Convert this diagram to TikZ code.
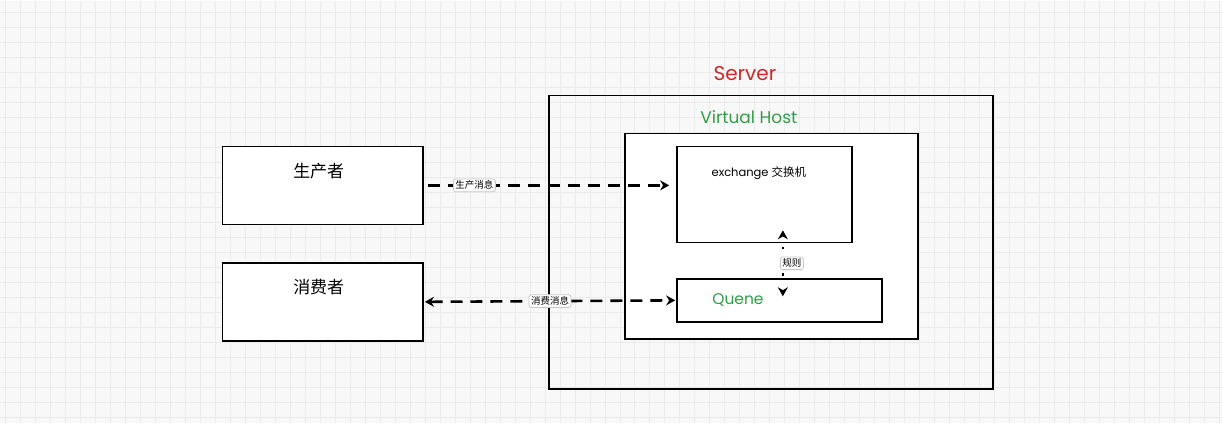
\documentclass[tikz,border=0pt]{standalone}
\usepackage{fontspec}
\setmainfont{Poppins}
\newfontfamily\cjk{Noto Sans CJK SC}
\usetikzlibrary{positioning,arrows.meta}

\definecolor{srvred}{HTML}{C92A2A}
\definecolor{vhgreen}{HTML}{2F9E44}
\definecolor{gridbg}{HTML}{F8F8F8}
\definecolor{gridln}{HTML}{EBEBEB}

\begin{document}
\begin{tikzpicture}[x=1pt, y=-1pt,
    >={Stealth[length=9pt,width=10pt]},
    bb/.style={%
      rectangle, draw=black, line width=1.6pt, fill=white, inner sep=0pt
    },
    txt/.style={%
      inner sep=0pt, font=\cjk\fontsize{17}{17}\selectfont
    },
    tag/.style={%
      rectangle, rounded corners=2.5pt, draw=black!22, fill=white, solid,
      line width=0.8pt, inner sep=2pt, font=\cjk\fontsize{9.5}{9.5}\selectfont
    },
    flow/.style={line width=2.6pt, dash pattern=on 12pt off 8pt}
]
    % grid paper
    \fill[gridbg] (0,0) rectangle (1222,423);
    \foreach \x in {5,20,...,1220}
      \draw[gridln, line width=1pt] (\x,0) -- (\x,423);
    \foreach \y in {12,27,...,420}
      \draw[gridln, line width=1pt] (0,\y) -- (1222,\y);
    \useasboundingbox (0,0) rectangle (1222,423);

    \node[bb, minimum width=201pt, minimum height=78pt] (1) at (322.5,185) {};
    \node[bb, minimum width=201pt, minimum height=78pt] (2) [below = 37pt of 1] {};
    \node[bb, fill=none, line width=1.8pt, minimum width=444pt, minimum height=294pt] (3) at (771,242) {};
    \node[bb, minimum width=293pt, minimum height=206pt] (4) at (771.5,236) {};
    \node[bb, minimum width=175pt, minimum height=96pt] (5) at (764.5,194) {};
    \node[bb, minimum width=205pt, minimum height=43pt] (6) [below right = 35pt and 0pt of 5.south west] {};

    \node[txt] (7)  [below = 17pt of 1.north, xshift=-4pt] {生产者};
    \node[txt] (8)  [below = 17pt of 2.north, xshift=-4pt] {消费者};
    \node[txt, font=\fontsize{20}{20}\selectfont, text=srvred] (9) at (745,73) {Server};
    \node[txt, font=\fontsize{17}{17}\selectfont, text=vhgreen] (10) at (749,117) {Virtual Host};
    \node[txt, font=\fontsize{11.5}{11.5}\selectfont] (11) at (759,173) {exchange {\cjk 交换机}};
    \node[txt, font=\fontsize{15.5}{15.5}\selectfont, text=vhgreen] (12) [right = 36pt of 6.west] {Quene};

    \coordinate (r1) at (783,230);
    \coordinate (r2) at (783,296);

    \path (1.east) edge[flow, ->, shorten <=4pt, shorten >=7pt]
            node[tag, pos=0.2] {生产消息} (1.east -| 5.west)
          (2.east) edge[flow, <->, shorten <=1pt, shorten >=1pt]
            node[tag, pos=0.5] {消费消息} (6.west)
          (r1) edge[<->, line width=2.6pt,
                    dash pattern=on 0pt off 11pt on 2.5pt off 24pt on 2.5pt off 30pt]
            node[tag, xshift=9pt] {规则} (r2)
    ;

\end{tikzpicture}
\end{document}
